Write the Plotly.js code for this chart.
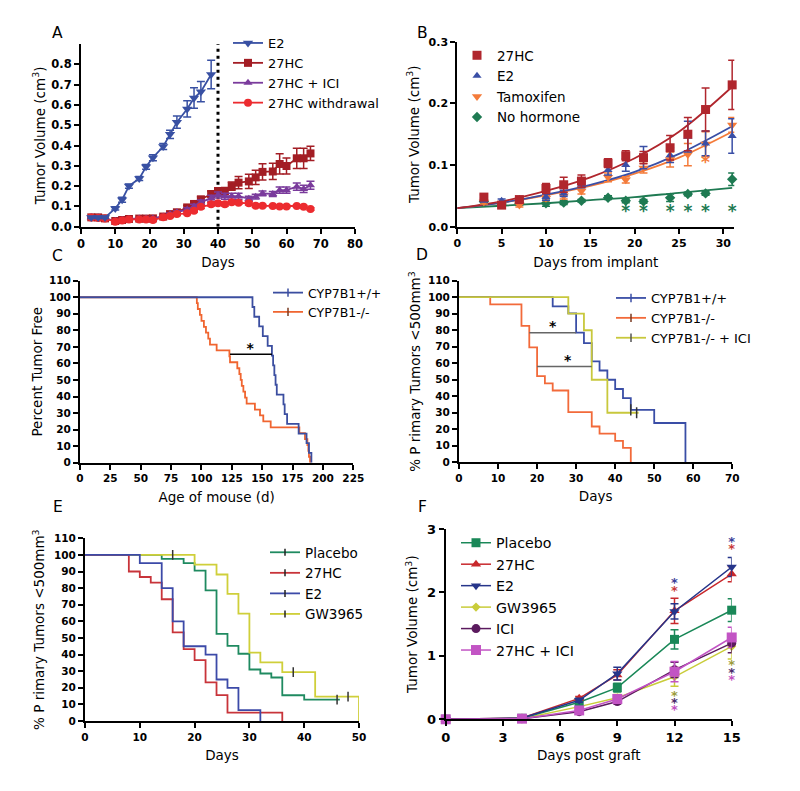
<!DOCTYPE html>
<html><head><meta charset="utf-8">
<script src="https://cdn.plot.ly/plotly-3.0.1.min.js"></script>
<style>html,body{margin:0;padding:0;background:#fff}#chart{width:800px;height:791px}</style>
</head><body><div id="chart"></div>
<script>
// ================= DATA =================
// Panel A
const A_E2_days = [3,5,7,10,12,14,17,19,21,24,26,28,31,33,35,38];
const A_E2_vol  = [0.045,0.045,0.045,0.09,0.133,0.20,0.237,0.295,0.34,0.395,0.455,0.515,0.58,0.634,0.665,0.75];
const A_E2_err  = [0.005,0.005,0.005,0.008,0.012,0.01,0.01,0.012,0.015,0.015,0.02,0.03,0.04,0.05,0.05,0.07];
const A_days    = [3,5,7,10,12,14,17,19,21,24,26,28,31,33,35,38,40,42,44,46,49,51,53,56,58,60,63,65,67];
const A_27HC_vol = [0.046,0.046,0.041,0.028,0.033,0.038,0.040,0.040,0.041,0.050,0.062,0.071,0.095,0.112,0.135,0.161,0.176,0.176,0.200,0.217,0.223,0.243,0.270,0.272,0.309,0.299,0.337,0.337,0.361];
const A_27HC_err = [0.005,0.005,0.005,0.004,0.004,0.005,0.005,0.005,0.005,0.006,0.008,0.008,0.010,0.012,0.012,0.015,0.015,0.017,0.020,0.030,0.035,0.035,0.040,0.040,0.050,0.040,0.050,0.050,0.035];
const A_ICI_vol  = [0.046,0.046,0.041,0.028,0.033,0.038,0.040,0.040,0.041,0.050,0.062,0.071,0.085,0.100,0.120,0.140,0.156,0.150,0.150,0.150,0.138,0.148,0.164,0.161,0.180,0.180,0.197,0.186,0.204];
const A_ICI_err  = [0.004,0.004,0.004,0.004,0.004,0.004,0.004,0.004,0.004,0.005,0.006,0.007,0.008,0.010,0.012,0.015,0.015,0.015,0.015,0.015,0.012,0.012,0.012,0.012,0.015,0.015,0.018,0.018,0.020];
const A_WD_vol   = [0.045,0.043,0.040,0.025,0.030,0.036,0.036,0.036,0.033,0.046,0.053,0.062,0.066,0.079,0.098,0.110,0.115,0.110,0.120,0.118,0.115,0.103,0.103,0.102,0.100,0.100,0.102,0.098,0.087];
const A_WD_err   = [0.004,0.004,0.004,0.004,0.004,0.004,0.004,0.004,0.004,0.005,0.005,0.006,0.006,0.007,0.008,0.008,0.008,0.008,0.008,0.008,0.008,0.006,0.006,0.006,0.006,0.006,0.006,0.006,0.006];
const A_cut_day = [40,40];
const A_cut_vol = [0,0.9];
const A_yticks = [0,0.1,0.2,0.3,0.4,0.5,0.6,0.7,0.8];

// Panel B
const B_days = [3,5,7,10,12,14,17,19,21,24,26,28,31];
const B_27HC = [0.048,0.035,0.044,0.062,0.068,0.074,0.103,0.115,0.112,0.128,0.150,0.190,0.230];
const B_27HC_err = [0.004,0.003,0.004,0.008,0.012,0.010,0.007,0.008,0.010,0.020,0.027,0.035,0.040];
const B_E2   = [0.043,0.042,0.045,0.048,0.054,0.068,0.092,0.100,0.112,0.116,0.146,0.135,0.147];
const B_E2_err = [0.003,0.003,0.003,0.005,0.005,0.005,0.008,0.010,0.018,0.012,0.025,0.020,0.028];
const B_TAM  = [0.040,0.036,0.035,0.046,0.050,0.058,0.080,0.076,0.095,0.109,0.117,0.134,0.165];
const B_TAM_err = [0.003,0.003,0.003,0.004,0.005,0.005,0.007,0.005,0.008,0.012,0.018,0.020,0.012];
const B_NOH  = [0.041,0.037,0.038,0.038,0.039,0.042,0.047,0.042,0.041,0.047,0.053,0.054,0.077];
const B_NOH_err = [0.002,0.002,0.003,0.005,0.003,0.002,0.003,0.003,0.003,0.006,0.003,0.003,0.010];
const B_fit_days = [0,5,10,15,20,25,31];
const B_fit_27HC = [0.030,0.041,0.058,0.080,0.111,0.154,0.227];
const B_fit_E2   = [0.030,0.039,0.052,0.068,0.089,0.118,0.163];
const B_fit_TAM  = [0.030,0.039,0.051,0.066,0.086,0.112,0.154];
const B_fit_NOH  = [0.030,0.034,0.038,0.043,0.048,0.055,0.063];
const B_star_days = [19,21,24,26,28,31,28,31.9,31.9];
const B_star_vol  = [0.022,0.022,0.022,0.022,0.022,0.022,0.102,0.155,0.174];
const B_star_col  = ['#1e7a52','#1e7a52','#1e7a52','#1e7a52','#1e7a52','#1e7a52','#f47b3a','#f47b3a','#3a4fa6'];

// Panel C
const C_wt_age = [0,142,143.5,147.5,150.5,154.5,158,159,160,161,162,167.5,168.5,170.5,180,186.5,188.5,190.5];
const C_wt_pct = [100,94.1,88.2,82.4,76.5,70.6,64.7,58.8,52.9,47.1,41.2,35.3,29.4,23.5,17.6,11.8,5.9,0];
const C_ko_age = [0,96.2,97,98.7,100,102,103.7,105.6,107,112.5,123,123.5,129.5,131.2,132.3,133.2,134.5,135.9,137.2,144,148.2,150.9,157,180.6,185.2,187.2,188,188.5,189.4];
const C_ko_pct = [100,96.4,92.9,89.3,85.7,82.1,78.6,75,71.4,67.9,64.3,60.7,57.1,53.6,50,46.4,42.9,39.3,35.7,32.1,28.6,25,21.4,17.9,14.3,10.7,7.1,3.6,0];
const C_bracket_age = [123.5,158];
const C_bracket_pct = [65.5,65.5];
const C_star_age = [140];
const C_star_pct = [68.5];

// Panel D
const D_wt_day = [0,24,28,30,32,34,36,38,40,42,44,50,58];
const D_wt_pct = [100,94.4,90.2,78.5,72.2,61.1,55.6,50,44.4,38.9,31.7,23.8,0];
const D_ko_day = [0,8,16,18,20,22,24,28,34,36,40,42,44];
const D_ko_pct = [100,95.7,82.6,69.6,52.2,47.8,43.5,30.4,21.7,17.4,13,8.7,0];
const D_ici_day = [0,28,32,34,38,46];
const D_ici_pct = [100,90,80,50,30,30];
const D_cens_day = [44,45.5];
const D_cens_pct = [31.7,30];
const D_br1_day = [18,30]; const D_br1_pct = [78.5,78.5];
const D_br2_day = [20,34]; const D_br2_pct = [58,58];
const D_star_day = [24,27.8];
const D_star_pct = [81.5,61];

// Panel E
const E_pl_day = [0,14,18,20,22,24,26,28,30,32,34,36,40,46.5];
const E_pl_pct = [100,97.6,95.1,90.5,78.6,52.4,45.2,40.5,31,28.6,26.2,15.5,12.9,12.9];
const E_hc_day = [0,8,10,12,14,16,18,20,22,24,26,36];
const E_hc_pct = [100,90,86.7,83.3,73.3,53.3,43.3,36.7,23.3,15.6,5,0];
const E_e2_day = [0,10,14,16,18,22,24,26,28,32];
const E_e2_pct = [100,95,80,60,45,40,25,20,6.5,0];
const E_gw_day = [0,20,24,26,28,30,32,36,42,50];
const E_gw_pct = [100,94.1,88.2,76.5,64.7,41.2,35.3,29.4,14.7,0];
const E_cens_day = [16,38,46,48];
const E_cens_pct = [100,29.4,12.9,14.7];

// Panel F
const F_days = [0,4,7,9,12,15];
const F_PL  = [0,0.016,0.27,0.50,1.26,1.72];   const F_PL_err  = [0,0.01,0.03,0.07,0.15,0.18];
const F_HC  = [0,0.02,0.33,0.70,1.71,2.29];    const F_HC_err  = [0,0.01,0.03,0.08,0.20,0.12];
const F_E2  = [0,0.02,0.30,0.72,1.70,2.40];    const F_E2_err  = [0,0.01,0.03,0.10,0.12,0.15];
const F_GW  = [0,0.01,0.20,0.34,0.67,1.15];    const F_GW_err  = [0,0.01,0.03,0.05,0.15,0.20];
const F_ICI = [0,0.01,0.12,0.28,0.78,1.20];    const F_ICI_err = [0,0.01,0.02,0.04,0.12,0.15];
const F_HI  = [0,0.01,0.14,0.32,0.75,1.29];    const F_HI_err  = [0,0.01,0.02,0.04,0.16,0.16];
const F_star_days = [12,12,12,12,12,15,15,15,15,15];
const F_star_vol  = [2.13,2.01,0.35,0.25,0.13,2.79,2.67,0.84,0.72,0.61];
const F_star_col  = ['#3a4098','#c83a3a','#9c9c3c','#4a2a6a','#c050c0','#3a4098','#c83a3a','#9c9c3c','#4a2a6a','#c050c0'];

// ================= LAYOUT HELPERS =================
const W = 800, H = 791;
const FONT = 'DejaVu Sans';
function xd(a,b){return [a/W,b/W];}
function yd(top,bottom){return [1-bottom/H,1-top/H];}
function ax(extra, tsize){
  return Object.assign({showgrid:false,zeroline:false,showline:true,linecolor:'#000',linewidth:2,
    ticks:'outside',ticklen:5,tickwidth:2,tickcolor:'#000',fixedrange:true,
    tickprefix:'<b>',ticksuffix:'</b>',
    tickfont:{family:FONT,size:tsize||11,color:'#000',weight:700}}, extra);
}
function ttl(text, standoff){return {text:text, font:{family:FONT,size:13.5,color:'#000'}, standoff:standoff};}
function leg(xpx, ytoppx, size){
  return {x:xpx/W, y:1-ytoppx/H, xanchor:'left', yanchor:'top', bgcolor:'rgba(0,0,0,0)',
    borderwidth:0, font:{family:FONT,size:size,color:'#000'}, itemwidth:30, tracegroupgap:0};
}
const eb = (arr,c)=>({type:'data',array:arr,visible:true,color:c,thickness:1.5,width:4});

const traces = [];
// ---- A ----
const cE2='#3850a3', cHC='#a31d24', cICI='#7a3b9c', cWD='#ec2b2f';
traces.push({x:A_cut_day,y:A_cut_vol,xaxis:'x',yaxis:'y',mode:'lines',line:{color:'#000',width:3,dash:'3px,4px'},showlegend:false,hoverinfo:'skip'});
traces.push({x:A_days,y:A_27HC_vol,error_y:eb(A_27HC_err,cHC),xaxis:'x',yaxis:'y',mode:'lines+markers',name:'27HC',legend:'legend',legendrank:2,
  line:{color:cHC,width:1.8},marker:{symbol:'square',size:8,color:cHC},cliponaxis:false});
traces.push({x:A_days,y:A_ICI_vol,error_y:eb(A_ICI_err,cICI),xaxis:'x',yaxis:'y',mode:'lines+markers',name:'27HC + ICI',legend:'legend',legendrank:3,
  line:{color:cICI,width:1.8},marker:{symbol:'triangle-up',size:8,color:cICI},cliponaxis:false});
traces.push({x:A_days,y:A_WD_vol,error_y:eb(A_WD_err,cWD),xaxis:'x',yaxis:'y',mode:'lines+markers',name:'27HC withdrawal',legend:'legend',legendrank:4,
  line:{color:cWD,width:1.8},marker:{symbol:'circle',size:8,color:cWD},cliponaxis:false});
traces.push({x:A_E2_days,y:A_E2_vol,error_y:eb(A_E2_err,cE2),xaxis:'x',yaxis:'y',mode:'lines+markers',name:'E2',legend:'legend',legendrank:1,
  line:{color:cE2,width:1.8},marker:{symbol:'triangle-down',size:9,color:cE2},cliponaxis:false});

// ---- B ----
const bHC='#b0262d', bE2='#3a4fa6', bTM='#f47b3a', bNH='#1e7a52';
traces.push({x:B_fit_days,y:B_fit_NOH,xaxis:'x2',yaxis:'y2',mode:'lines',line:{color:bNH,width:1.8,shape:'spline'},showlegend:false});
traces.push({x:B_fit_days,y:B_fit_TAM,xaxis:'x2',yaxis:'y2',mode:'lines',line:{color:bTM,width:1.8,shape:'spline'},showlegend:false});
traces.push({x:B_fit_days,y:B_fit_E2,xaxis:'x2',yaxis:'y2',mode:'lines',line:{color:bE2,width:1.8,shape:'spline'},showlegend:false});
traces.push({x:B_fit_days,y:B_fit_27HC,xaxis:'x2',yaxis:'y2',mode:'lines',line:{color:bHC,width:1.8,shape:'spline'},showlegend:false});
traces.push({x:B_days,y:B_NOH,error_y:eb(B_NOH_err,bNH),xaxis:'x2',yaxis:'y2',mode:'markers',name:'No hormone',legend:'legend2',legendrank:4,marker:{symbol:'diamond',size:8,color:bNH},cliponaxis:false});
traces.push({x:B_days,y:B_TAM,error_y:eb(B_TAM_err,bTM),xaxis:'x2',yaxis:'y2',mode:'markers',name:'Tamoxifen',legend:'legend2',legendrank:3,marker:{symbol:'triangle-down',size:9,color:bTM},cliponaxis:false});
traces.push({x:B_days,y:B_E2,error_y:eb(B_E2_err,bE2),xaxis:'x2',yaxis:'y2',mode:'markers',name:'E2',legend:'legend2',legendrank:2,marker:{symbol:'triangle-up',size:8,color:bE2},cliponaxis:false});
traces.push({x:B_days,y:B_27HC,error_y:eb(B_27HC_err,bHC),xaxis:'x2',yaxis:'y2',mode:'markers',name:'27HC',legend:'legend2',legendrank:1,marker:{symbol:'square',size:9,color:bHC},cliponaxis:false});
traces.push({x:B_star_days,y:B_star_vol,xaxis:'x2',yaxis:'y2',mode:'text',text:B_star_days.map(()=>'*'),textfont:{family:FONT,size:17,color:B_star_col,weight:700},showlegend:false,cliponaxis:false});

// ---- C ----
const cBlue='#3b4ea0', cOr='#f06530', cens='#333';
traces.push({x:C_ko_age,y:C_ko_pct,xaxis:'x3',yaxis:'y3',mode:'lines',line:{color:cOr,width:1.8,shape:'hv'},showlegend:false});
traces.push({x:C_wt_age,y:C_wt_pct,xaxis:'x3',yaxis:'y3',mode:'lines',line:{color:cBlue,width:1.8,shape:'hv'},showlegend:false});
traces.push({x:C_bracket_age,y:C_bracket_pct,xaxis:'x3',yaxis:'y3',mode:'lines',line:{color:'#000',width:1.5},showlegend:false});
traces.push({x:C_star_age,y:C_star_pct,xaxis:'x3',yaxis:'y3',mode:'text',text:['*'],textfont:{family:FONT,size:14,color:'#000',weight:700},showlegend:false});
traces.push({x:[null],y:[null],xaxis:'x3',yaxis:'y3',mode:'lines+markers',name:'CYP7B1+/+',legend:'legend3',line:{color:cBlue,width:1.8},marker:{symbol:'line-ns',size:6,line:{color:cBlue,width:1.5}}});
traces.push({x:[null],y:[null],xaxis:'x3',yaxis:'y3',mode:'lines+markers',name:'CYP7B1-/-',legend:'legend3',line:{color:cOr,width:1.8},marker:{symbol:'line-ns',size:6,line:{color:'#7a3a20',width:1.5}}});

// ---- D ----
const dBlue='#3a4ea6', dOr='#f26a3a', dYe='#c8c83c';
traces.push({x:D_ko_day,y:D_ko_pct,xaxis:'x4',yaxis:'y4',mode:'lines',line:{color:dOr,width:1.8,shape:'hv'},showlegend:false});
traces.push({x:D_wt_day,y:D_wt_pct,xaxis:'x4',yaxis:'y4',mode:'lines',line:{color:dBlue,width:1.8,shape:'hv'},showlegend:false});
traces.push({x:D_ici_day,y:D_ici_pct,xaxis:'x4',yaxis:'y4',mode:'lines',line:{color:dYe,width:1.8,shape:'hv'},showlegend:false});
traces.push({x:D_br1_day,y:D_br1_pct,xaxis:'x4',yaxis:'y4',mode:'lines',line:{color:'#666',width:1.5},showlegend:false});
traces.push({x:D_br2_day,y:D_br2_pct,xaxis:'x4',yaxis:'y4',mode:'lines',line:{color:'#666',width:1.5},showlegend:false});
traces.push({x:D_cens_day,y:D_cens_pct,xaxis:'x4',yaxis:'y4',mode:'markers',marker:{symbol:'line-ns',size:8,line:{color:cens,width:1.5}},showlegend:false});
traces.push({x:D_star_day,y:D_star_pct,xaxis:'x4',yaxis:'y4',mode:'text',text:D_star_day.map(()=>'*'),textfont:{family:FONT,size:14,color:'#000',weight:700},showlegend:false});
traces.push({x:[null],y:[null],xaxis:'x4',yaxis:'y4',mode:'lines+markers',name:'CYP7B1+/+',legend:'legend4',line:{color:dBlue,width:1.8},marker:{symbol:'line-ns',size:6,line:{color:dBlue,width:1.5}}});
traces.push({x:[null],y:[null],xaxis:'x4',yaxis:'y4',mode:'lines+markers',name:'CYP7B1-/-',legend:'legend4',line:{color:dOr,width:1.8},marker:{symbol:'line-ns',size:6,line:{color:'#7a3a20',width:1.5}}});
traces.push({x:[null],y:[null],xaxis:'x4',yaxis:'y4',mode:'lines+markers',name:'CYP7B1-/- + ICI',legend:'legend4',line:{color:dYe,width:1.8},marker:{symbol:'line-ns',size:6,line:{color:'#555',width:1.5}}});

// ---- E ----
const eGr='#1f8a60', eRd='#c8343a', eBl='#3c4aa8', eYe='#cfcf3a';
traces.push({x:E_pl_day,y:E_pl_pct,xaxis:'x5',yaxis:'y5',mode:'lines',line:{color:eGr,width:1.8,shape:'hv'},showlegend:false});
traces.push({x:E_gw_day,y:E_gw_pct,xaxis:'x5',yaxis:'y5',mode:'lines',line:{color:eYe,width:1.8,shape:'hv'},showlegend:false});
traces.push({x:E_hc_day,y:E_hc_pct,xaxis:'x5',yaxis:'y5',mode:'lines',line:{color:eRd,width:1.8,shape:'hv'},showlegend:false});
traces.push({x:E_e2_day,y:E_e2_pct,xaxis:'x5',yaxis:'y5',mode:'lines',line:{color:eBl,width:1.8,shape:'hv'},showlegend:false});
traces.push({x:E_cens_day,y:E_cens_pct,xaxis:'x5',yaxis:'y5',mode:'markers',marker:{symbol:'line-ns',size:7,line:{color:cens,width:1.5}},showlegend:false});
traces.push({x:[null],y:[null],xaxis:'x5',yaxis:'y5',mode:'lines+markers',name:'Placebo',legend:'legend5',line:{color:eGr,width:1.8},marker:{symbol:'line-ns',size:5,line:{color:'#222',width:1.5}}});
traces.push({x:[null],y:[null],xaxis:'x5',yaxis:'y5',mode:'lines+markers',name:'27HC',legend:'legend5',line:{color:eRd,width:1.8},marker:{symbol:'line-ns',size:5,line:{color:'#222',width:1.5}}});
traces.push({x:[null],y:[null],xaxis:'x5',yaxis:'y5',mode:'lines+markers',name:'E2',legend:'legend5',line:{color:eBl,width:1.8},marker:{symbol:'line-ns',size:5,line:{color:'#222',width:1.5}}});
traces.push({x:[null],y:[null],xaxis:'x5',yaxis:'y5',mode:'lines+markers',name:'GW3965',legend:'legend5',line:{color:eYe,width:1.8},marker:{symbol:'line-ns',size:5,line:{color:'#222',width:1.5}}});

// ---- F ----
const fPL='#1a8858', fHC='#c8282c', fE2='#26358a', fGW='#c9cc3a', fICI='#5b1a5e', fHI='#c254c4';
function fTrace(y,err,name,rank,c,sym,sz){
  return {x:F_days,y:y,error_y:eb(err,c),xaxis:'x6',yaxis:'y6',mode:'lines+markers',name:name,legend:'legend6',legendrank:rank,
    line:{color:c,width:1.5},marker:{symbol:sym,size:sz,color:c},cliponaxis:false};
}
traces.push(fTrace(F_GW,F_GW_err,'GW3965',4,fGW,'diamond',7));
traces.push(fTrace(F_PL,F_PL_err,'Placebo',1,fPL,'square',9));
traces.push(fTrace(F_HC,F_HC_err,'27HC',2,fHC,'triangle-up',9));
traces.push(fTrace(F_E2,F_E2_err,'E2',3,fE2,'triangle-down',9));
traces.push(fTrace(F_ICI,F_ICI_err,'ICI',5,fICI,'circle',9));
traces.push(fTrace(F_HI,F_HI_err,'27HC + ICI',6,fHI,'square',10));
traces.push({x:F_star_days,y:F_star_vol,xaxis:'x6',yaxis:'y6',mode:'text',text:F_star_days.map(()=>'*'),textfont:{family:FONT,size:13,color:F_star_col,weight:700},showlegend:false,cliponaxis:false});

const letterFont = {family:FONT,size:15.5,color:'#000'};
function letter(t,xp,yp){return {text:t,x:xp/W,y:1-yp/H,xref:'paper',yref:'paper',showarrow:false,font:letterFont,xanchor:'center',yanchor:'middle'};}

const layout = {
  width:W, height:H, margin:{l:0,r:0,t:0,b:0}, paper_bgcolor:'#fff', plot_bgcolor:'rgba(0,0,0,0)',
  font:{family:FONT,color:'#000'},
  xaxis: ax({domain:xd(81,355),range:[0,80],dtick:10,anchor:'y',title:ttl('Days',8)},11.5),
  yaxis: ax({domain:yd(44,226.7),range:[0,0.9],tickvals:A_yticks,tickformat:'.1f',anchor:'x',title:ttl('Tumor Volume (cm<sup>3</sup>)',3)},11.5),
  xaxis2: ax({domain:xd(457.3,734.3),range:[0,31.24],dtick:5,anchor:'y2',title:ttl('Days from implant',9)},11),
  yaxis2: ax({domain:yd(41.7,226.7),range:[0,0.3],dtick:0.1,tickformat:'.1f',anchor:'x2',title:ttl('Tumor Volume (cm<sup>3</sup>)',6)},11),
  xaxis3: ax({domain:xd(80,353.3),range:[0,225],dtick:25,anchor:'y3',title:ttl('Age of mouse (d)',9)},10.5),
  yaxis3: ax({domain:yd(280.7,462.7),range:[0,110],dtick:10,anchor:'x3',title:ttl('Percent Tumor Free',3)},10.5),
  xaxis4: ax({domain:xd(459,732.3),range:[0,70],dtick:10,anchor:'y4',title:ttl('Days',9)},10.5),
  yaxis4: ax({domain:yd(280.7,462.3),range:[0,110],dtick:10,anchor:'x4',title:ttl('% P rimary Tumors <500mm<sup>3</sup>',4)},10.5),
  xaxis5: ax({domain:xd(85,359),range:[0,50],dtick:10,anchor:'y5',title:ttl('Days',9)},10.5),
  yaxis5: ax({domain:yd(538.3,721),range:[0,110],dtick:10,anchor:'x5',title:ttl('% P rimary Tumors <500mm<sup>3</sup>',6)},10.5),
  xaxis6: ax({domain:xd(445.7,731.7),range:[0,15],dtick:3,anchor:'y6',title:ttl('Days post graft',7)},13),
  yaxis6: ax({domain:yd(529,719.3),range:[0,3],dtick:1,anchor:'x6',title:ttl('Tumor Volume (cm<sup>3</sup>)',6)},13),
  legend:  leg(228,28,13),
  legend2: leg(457,40,13.5),
  legend3: leg(268,278,12.5),
  legend4: leg(611,283,13),
  legend5: leg(265,537,13.5),
  legend6: leg(456,527,14.2),
  annotations:[letter('A',58,33),letter('B',422,33),letter('C',58,256),letter('D',422,255),letter('E',58,507),letter('F',422,507)],
  showlegend:true
};
Plotly.newPlot('chart',traces,layout,{displayModeBar:false,staticPlot:true});
</script></body></html>
